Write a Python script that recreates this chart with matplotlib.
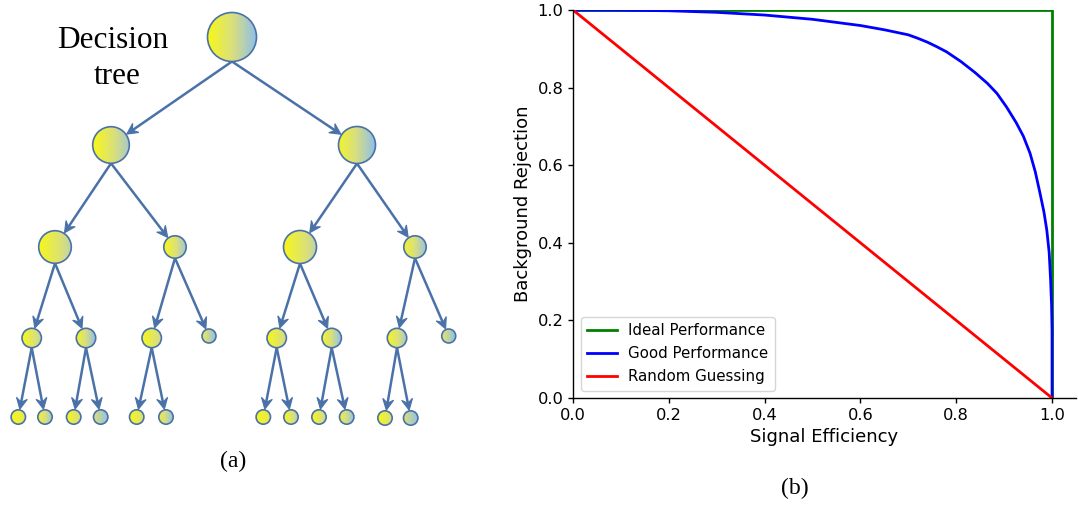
import matplotlib
matplotlib.use("Agg")
import matplotlib.pyplot as plt
import numpy as np
from matplotlib.colors import LinearSegmentedColormap
from matplotlib.patches import Circle, Polygon

W, H = 1078, 508
DPI = 100

# ROC-style curves: signal efficiency vs background rejection
ideal_eff = [0.0, 1.0, 1.0]
ideal_rej = [1.0, 1.0, 0.0]

good_eff = [0.0, 0.1, 0.2, 0.3, 0.4, 0.5, 0.6, 0.65, 0.7, 0.72, 0.74, 0.76,
            0.78, 0.81, 0.84, 0.865, 0.885, 0.905, 0.925, 0.94, 0.954, 0.965,
            0.975, 0.983, 0.989, 0.994, 0.997, 0.999, 1.0, 1.0]
good_rej = [1.0, 0.9995, 0.998, 0.994, 0.987, 0.976, 0.960, 0.949, 0.936,
            0.927, 0.917, 0.905, 0.892, 0.867, 0.838, 0.811, 0.785, 0.750,
            0.710, 0.675, 0.631, 0.583, 0.527, 0.480, 0.433, 0.375, 0.304,
            0.240, 0.175, 0.0]

random_eff = [0.0, 1.0]
random_rej = [1.0, 0.0]

x_ticks = [0.0, 0.2, 0.4, 0.6, 0.8, 1.0]
y_ticks = [0.0, 0.2, 0.4, 0.6, 0.8, 1.0]

# Decision tree schematic: node centres / radii (pixel layout) and parent links
node_x = [232, 111, 357, 55, 175, 300, 415,
          31.7, 86, 151.7, 209, 276.7, 331.7, 397, 448.7,
          18.3, 45, 73.7, 100.7, 136.7, 166, 263.3, 291, 319, 346.7, 385, 410.7]
node_y = [37, 145, 145, 247, 247, 247, 247,
          338, 338, 338, 336, 338, 338, 338, 336,
          417, 417, 417, 417, 417, 417, 417, 417, 417, 417, 418, 418]
node_r = [24.5, 18.3, 18.5, 16.3, 11.2, 16.5, 11.2,
          9.7, 9.7, 9.7, 7, 9.7, 9.7, 9.7, 7,
          7.2, 7.2, 7.2, 7.2, 7.2, 7.2, 7.2, 7.2, 7.2, 7.2, 7.2, 7.2]
node_parent = [None, 0, 0, 1, 1, 2, 2,
               3, 3, 4, 4, 5, 5, 6, 6,
               7, 7, 8, 8, 9, 9, 11, 11, 12, 12, 13, 13]
# gradient span across each node (0 = yellow, 1 = light blue)
node_grad = [(0, 1), (0, 0.85), (0.1, 1), (0, 0.7), (0, 0.9), (0, 0.7), (0.1, 0.95),
             (0, 0.7), (0.05, 1), (0, 0.6), (0.3, 1), (0, 0.6), (0.05, 1), (0, 0.85), (0.4, 1),
             (0, 0.3), (0.1, 0.9), (0, 0.6), (0.5, 1), (0, 0.5), (0.2, 1),
             (0, 0.3), (0, 0.8), (0, 0.7), (0.2, 1), (0, 0.5), (0.5, 1)]

EDGE = "#4a72a8"
node_cmap = LinearSegmentedColormap.from_list(
    "node", ["#f7f71a", "#d9df7e", "#8fbfea"])


def stealth_head(ax, tip, ux, uy, length=11, half_w=5.5, notch=7):
    """Barbed arrowhead pointing along (ux, uy) with its point at tip."""
    tx, ty = tip
    px, py = -uy, ux
    pts = [(tx, ty),
           (tx - length * ux + half_w * px, ty - length * uy + half_w * py),
           (tx - notch * ux, ty - notch * uy),
           (tx - length * ux - half_w * px, ty - length * uy - half_w * py)]
    ax.add_patch(Polygon(pts, closed=True, facecolor=EDGE, edgecolor=EDGE,
                         lw=0.8, joinstyle="miter", zorder=2))


fig = plt.figure(figsize=(W / DPI, H / DPI), dpi=DPI)

# ---- left: decision tree, drawn in pixel coordinates ----
tree = fig.add_axes([0, 0, 1, 1])
tree.set_axis_off()

for i, p in enumerate(node_parent):
    if p is None:
        continue
    x0, y0 = node_x[p], node_y[p] + node_r[p]
    cx, cy = node_x[i], node_y[i]
    d = np.hypot(cx - x0, cy - y0)
    ux, uy = (cx - x0) / d, (cy - y0) / d
    tip = (cx - ux * (node_r[i] + 0.8), cy - uy * (node_r[i] + 0.8))
    tree.plot([x0, tip[0] - 5.5 * ux], [y0, tip[1] - 5.5 * uy],
              color=EDGE, lw=1.8, solid_capstyle="butt", zorder=2)
    stealth_head(tree, tip, ux, uy)

for cx, cy, r, (g0, g1) in zip(node_x, node_y, node_r, node_grad):
    circ = Circle((cx, cy), r, facecolor="none", edgecolor=EDGE, lw=1.2, zorder=4)
    tree.add_patch(circ)
    grad = np.linspace(g0, g1, 64).reshape(1, -1)
    im = tree.imshow(grad, extent=(cx - r, cx + r, cy + r, cy - r), cmap=node_cmap,
                     vmin=0, vmax=1, interpolation="bilinear", aspect="auto", zorder=3)
    im.set_clip_path(circ)

tree.text(113, 40, "Decision", ha="center", va="center",
          family="Liberation Serif", fontsize=22.5)
tree.text(117, 77, "tree", ha="center", va="center",
          family="Liberation Serif", fontsize=22.5)
tree.text(233, 461, "(a)", ha="center", va="center",
          family="Liberation Serif", fontsize=17)
tree.text(795, 488, "(b)", ha="center", va="center",
          family="Liberation Serif", fontsize=17)
tree.set_xlim(0, W)
tree.set_ylim(H, 0)

# ---- right: signal efficiency vs background rejection ----
ax = fig.add_axes([573 / W, (H - 398) / H, (1076 - 573) / W, 388 / H])
ax.plot(ideal_eff, ideal_rej, color="green", lw=2, label="Ideal Performance")
ax.plot(good_eff, good_rej, color="blue", lw=2, label="Good Performance")
ax.plot(random_eff, random_rej, color="red", lw=2, label="Random Guessing")
ax.set_xlim(0, 1.05)
ax.set_ylim(0, 1.0)
ax.set_xticks(x_ticks)
ax.set_yticks(y_ticks)
ax.tick_params(labelsize=11.7, width=1.0)
ax.set_xlabel("Signal Efficiency", fontsize=13)
ax.set_ylabel("Background Rejection", fontsize=13)
ax.spines["top"].set_visible(False)
ax.spines["right"].set_visible(False)
for s in ("left", "bottom"):
    ax.spines[s].set_linewidth(1.0)
ax.legend(loc="lower left", fontsize=10.8, labelspacing=0.55)

fig.savefig("out.png", dpi=DPI)
